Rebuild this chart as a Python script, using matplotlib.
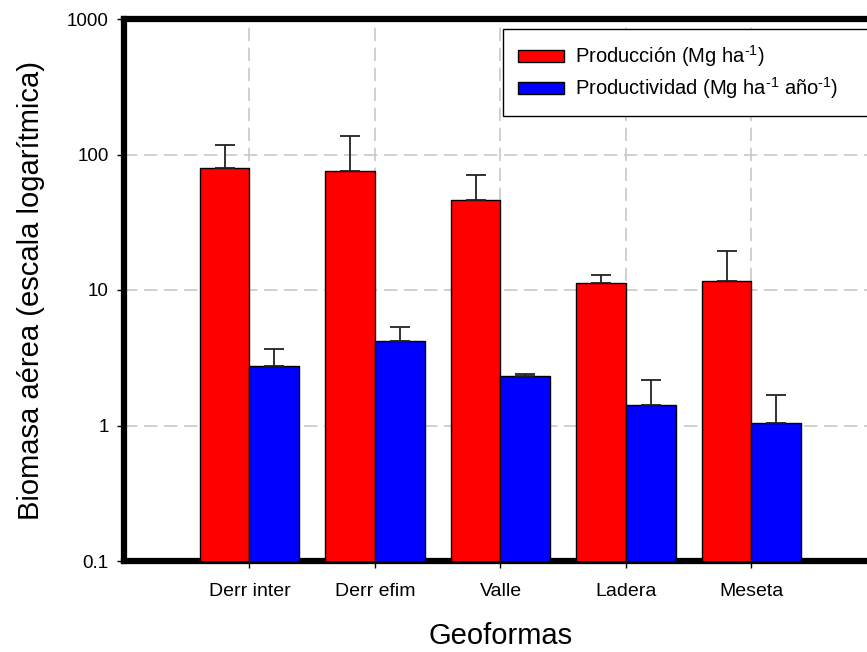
import numpy as np
import matplotlib.pyplot as plt
from matplotlib.ticker import FixedLocator, NullLocator

plt.rcParams['font.family'] = ['Liberation Sans', 'DejaVu Sans']
plt.rcParams['mathtext.fontset'] = 'custom'
plt.rcParams['mathtext.rm'] = 'Liberation Sans'
plt.rcParams['mathtext.it'] = 'Liberation Sans'

# datos por geoforma (medias y error superior)
geoformas = ['Derr inter', 'Derr efim', 'Valle', 'Ladera', 'Meseta']
produccion = [79, 75, 46.5, 11.2, 11.7]
produccion_err = [39, 62, 24, 1.6, 7.8]
productividad = [2.74, 4.22, 2.32, 1.41, 1.04]
productividad_err = [0.92, 1.13, 0.08, 0.76, 0.64]
yticks = [0.1, 1, 10, 100, 1000]
ytick_labels = ['0.1', '1', '10', '100', '1000']

fig = plt.figure(figsize=(8.67, 6.52), dpi=100)
ax = fig.add_axes([124 / 867, 91 / 652, 753 / 867, 542 / 652])

x = np.arange(1, len(geoformas) + 1)
w = 0.395
err_kw = dict(ecolor='#222222', elinewidth=1.3, capsize=7.5, capthick=1.3)

ax.bar(x - w / 2, produccion, w, color='#ff0000', edgecolor='black', linewidth=1.0,
       yerr=[np.zeros(5), produccion_err], error_kw=err_kw,
       label=r'Producción (Mg ha$^{\text{-}1}$)', zorder=3)
ax.bar(x + w / 2, productividad, w, color='#0000ff', edgecolor='black', linewidth=1.0,
       yerr=[np.zeros(5), productividad_err], error_kw=err_kw,
       label=r'Productividad (Mg ha$^{\text{-}1}$ año$^{\text{-}1}$)', zorder=3)

ax.set_yscale('log')
ax.set_ylim(0.1, 1000)
ax.set_xlim(0, 6)
ax.yaxis.set_major_locator(FixedLocator(yticks))
ax.yaxis.set_minor_locator(NullLocator())
ax.set_yticklabels(ytick_labels)
ax.set_xticks(x)
ax.set_xticklabels(geoformas)

ax.grid(True, color='#c8c8c8', linestyle=(0, (8, 4)), linewidth=1.2, zorder=0)
ax.set_axisbelow(True)

for s in ax.spines.values():
    s.set_linewidth(4.5)
ax.tick_params(axis='both', direction='out', length=5, width=1, labelsize=13.5, pad=6)
ax.tick_params(axis='x', labelsize=14, pad=11)

ax.set_ylabel('Biomasa aérea (escala logarítmica)', fontsize=21, labelpad=16)
ax.set_xlabel('Geoformas', fontsize=21, labelpad=16)

# leyenda anclada arriba a la derecha, se sale un poco del borde
leg = ax.legend(loc='upper left', bbox_to_anchor=(503 / 867, 0, 378 / 867, (652 - 29) / 652),
                bbox_transform=fig.transFigure, mode='expand', borderaxespad=0,
                fontsize=14.5, frameon=True, fancybox=False, edgecolor='black',
                framealpha=1, handlelength=2.3, handleheight=0.6, borderpad=0.72,
                labelspacing=0.3, handletextpad=0.55)
leg.get_frame().set_linewidth(1.0)

fig.savefig('out.png', dpi=100)
